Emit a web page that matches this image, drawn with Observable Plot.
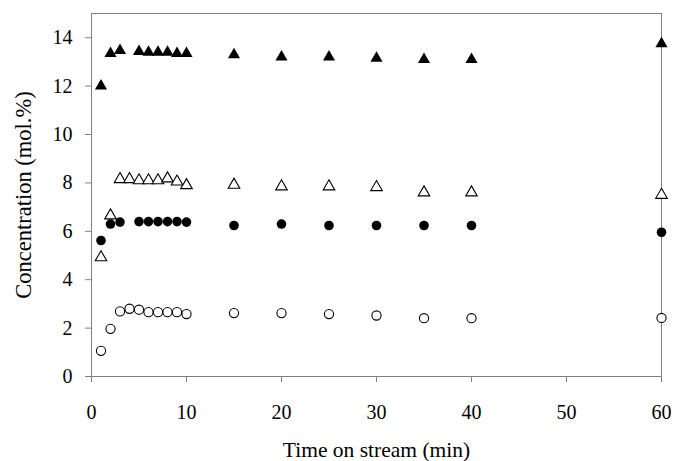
<!DOCTYPE html>
<html>
<head>
<meta charset="utf-8">
<script src="https://cdn.jsdelivr.net/npm/d3@7"></script>
<script src="https://cdn.jsdelivr.net/npm/@observablehq/plot@0.6"></script>
<style>
  html, body { margin: 0; padding: 0; background: #fff; }
  #chart svg { display: block; }
  #chart svg text, #chart svg g { font-family: 'Liberation Serif', 'Times New Roman', serif !important; font-variant: normal !important; }
</style>
</head>
<body>
<div id="chart"></div>
<script>
// Time on stream (min)
const timesFilledTri = [1, 2, 3, 5, 6, 7, 8, 9, 10, 15, 20, 25, 30, 35, 40, 60];
const filledTri = [12.0, 13.35, 13.47, 13.43, 13.4, 13.4, 13.4, 13.35, 13.35, 13.3, 13.2, 13.2, 13.15, 13.1, 13.1, 13.75];

const timesOpenTri = [1, 2, 3, 4, 5, 6, 7, 8, 9, 10, 15, 20, 25, 30, 35, 40, 60];
const openTri = [4.92, 6.65, 8.15, 8.15, 8.1, 8.1, 8.1, 8.18, 8.05, 7.9, 7.92, 7.85, 7.85, 7.82, 7.6, 7.6, 7.5];

const timesFilledCirc = [1, 2, 3, 5, 6, 7, 8, 9, 10, 15, 20, 25, 30, 35, 40, 60];
const filledCirc = [5.62, 6.3, 6.38, 6.4, 6.4, 6.4, 6.4, 6.4, 6.38, 6.24, 6.3, 6.24, 6.24, 6.24, 6.24, 5.96];

const timesOpenCirc = [1, 2, 3, 4, 5, 6, 7, 8, 9, 10, 15, 20, 25, 30, 35, 40, 60];
const openCirc = [1.06, 1.97, 2.69, 2.8, 2.76, 2.66, 2.66, 2.66, 2.66, 2.58, 2.62, 2.62, 2.58, 2.52, 2.41, 2.41, 2.42];

const xTicks = [0, 10, 20, 30, 40, 50, 60];
const yTicks = [0, 2, 4, 6, 8, 10, 12, 14];
const xLabel = ["Time on stream (min)"];
const yLabel = ["Concentration (mol.%)"];

const toRows = (ts, vs) => ts.map((t, i) => ({t, v: vs[i]}));

const axisColor = "#808080";
const serif = "'Liberation Serif', 'Times New Roman', serif";

const chart = Plot.plot({
  width: 675,
  height: 461,
  marginLeft: 91,
  marginRight: 14,
  marginTop: 13,
  marginBottom: 85,
  style: {fontFamily: serif, fontSize: "20px", color: "#000", background: "#fff"},
  x: {domain: [0, 60]},
  y: {domain: [0, 15]},
  marks: [
    Plot.frame({stroke: axisColor}),
    Plot.axisX({ticks: xTicks, tickSize: 6, tickPadding: 22, stroke: axisColor, fill: "#000", fontSize: 20, fontFamily: serif, label: null}),
    Plot.axisY({ticks: yTicks, tickSize: 6, tickPadding: 13, stroke: axisColor, fill: "#000", fontSize: 20, fontFamily: serif, label: null}),
    Plot.text(xLabel, {frameAnchor: "bottom", text: d => d, dy: 74, textAnchor: "middle", lineAnchor: "middle", fontSize: 21.5, fontFamily: serif, fill: "#000"}),
    Plot.text(yLabel, {frameAnchor: "left", text: d => d, dx: -68, rotate: -90, textAnchor: "middle", lineAnchor: "middle", fontSize: 22.5, fontFamily: serif, fill: "#000"}),
    Plot.dot(toRows(timesOpenCirc, openCirc), {x: "t", y: "v", symbol: "circle", r: 4.6, fill: "white", stroke: "black", strokeWidth: 1.1}),
    Plot.dot(toRows(timesOpenTri, openTri), {x: "t", y: "v", symbol: "triangle", r: 4.3, fill: "white", stroke: "black", strokeWidth: 1.1}),
    Plot.dot(toRows(timesFilledCirc, filledCirc), {x: "t", y: "v", symbol: "circle", r: 4.8, fill: "black", stroke: "none"}),
    Plot.dot(toRows(timesFilledTri, filledTri), {x: "t", y: "v", symbol: "triangle", r: 4.5, fill: "black", stroke: "none"})
  ]
});
document.getElementById("chart").appendChild(chart);
</script>
</body>
</html>
